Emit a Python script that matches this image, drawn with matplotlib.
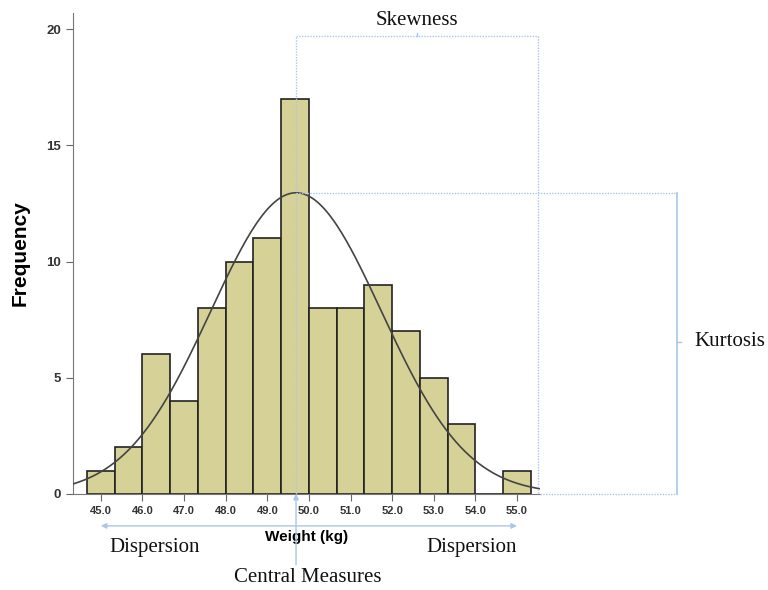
import numpy as np
import matplotlib.pyplot as plt

# histogram of weights, bin width 2/3 kg
bin_edges = [44.667, 45.333, 46.0, 46.667, 47.333, 48.0, 48.667, 49.333, 50.0,
             50.667, 51.333, 52.0, 52.667, 53.333, 54.0, 54.667, 55.333]
counts = [1, 2, 6, 4, 8, 10, 11, 17, 8, 8, 9, 7, 5, 3, 0, 1]
xticks = [45.0, 46.0, 47.0, 48.0, 49.0, 50.0, 51.0, 52.0, 53.0, 54.0, 55.0]
yticks = [0, 5, 10, 15, 20]

# fitted normal curve parameters
mean_w = 49.69
sd_w = 2.05
n_total = sum(counts)

bar_col = '#d6d196'
guide_col = '#a9c7e6'
serif = 'Liberation Serif'
sans = 'Liberation Sans'

fig = plt.figure(figsize=(7.68, 5.9), dpi=100)
ax = fig.add_axes([0.095, 0.163, 0.608, 0.815])

edges = np.array(bin_edges)
ax.bar(edges[:-1], counts, width=np.diff(edges), align='edge',
       color=bar_col, edgecolor='#222222', linewidth=1.2, zorder=2)

xs = np.linspace(44.33, 55.55, 300)
bw = edges[1] - edges[0]
ys = n_total * bw / (sd_w * np.sqrt(2 * np.pi)) * np.exp(-0.5 * ((xs - mean_w) / sd_w) ** 2)
ax.plot(xs, ys, color='#444444', lw=1.2, zorder=3)

ax.set_xlim(44.33, 55.55)
ax.set_ylim(0, 20.7)
ax.set_xticks(xticks)
ax.set_xticklabels(['%.1f' % t for t in xticks], family=sans, fontsize=8,
                   fontweight='bold', color='#333333')
ax.set_yticks(yticks)
ax.set_yticklabels([str(t) for t in yticks], family=sans, fontsize=9.5,
                   fontweight='bold', color='#333333')
ax.tick_params(direction='out', length=5, color='#666666')
for s in ['top', 'right']:
    ax.spines[s].set_visible(False)
for s in ['left', 'bottom']:
    ax.spines[s].set_color('#777777')
ax.set_ylabel('Frequency', family=sans, fontsize=15, fontweight='bold', labelpad=12)
ax.set_xlabel('Weight (kg)', family=sans, fontsize=11, fontweight='bold', labelpad=10)

# guide brackets
peak = n_total * bw / (sd_w * np.sqrt(2 * np.pi))
dot = dict(color=guide_col, lw=1.0, ls=(0, (1, 1)), clip_on=False, zorder=4)
ax.plot([mean_w, mean_w], [0, 19.7], **dot)
ax.plot([mean_w, 55.5], [19.7, 19.7], **dot)
ax.plot([55.5, 55.5], [19.7, 0], **dot)
ax.plot([52.6, 52.6], [19.7, 19.85], color=guide_col, lw=1, clip_on=False)
ax.plot([mean_w, 58.85], [peak, peak], **dot)
ax.plot([55.55, 58.85], [0, 0], **dot)
ax.plot([58.85, 58.85], [peak, 0], color=guide_col, lw=1.2, clip_on=False)
ax.plot([58.85, 58.95], [6.55, 6.55], color=guide_col, lw=1, clip_on=False)

ax.annotate('', xy=(45.0, -1.38), xytext=(55.0, -1.38), annotation_clip=False,
            arrowprops=dict(arrowstyle='<|-|>', color=guide_col, lw=1.0,
                            mutation_scale=8, shrinkA=0, shrinkB=0))
ax.annotate('', xy=(mean_w, 0), xytext=(mean_w, -3.05), annotation_clip=False,
            arrowprops=dict(arrowstyle='-|>', color=guide_col, lw=1.0,
                            mutation_scale=8, shrinkA=0, shrinkB=0))

tk = dict(family=serif, fontsize=15, color='#111111', clip_on=False)
ax.text(52.6, 20.38, 'Skewness', ha='center', va='center', **tk)
ax.text(59.25, 6.55, 'Kurtosis', ha='left', va='center', **tk)
ax.text(46.3, -2.3, 'Dispersion', ha='center', va='center', **tk)
ax.text(53.9, -2.3, 'Dispersion', ha='center', va='center', **tk)
ax.text(49.98, -3.6, 'Central Measures', ha='center', va='center', **tk)

fig.savefig('out.png', dpi=100)
